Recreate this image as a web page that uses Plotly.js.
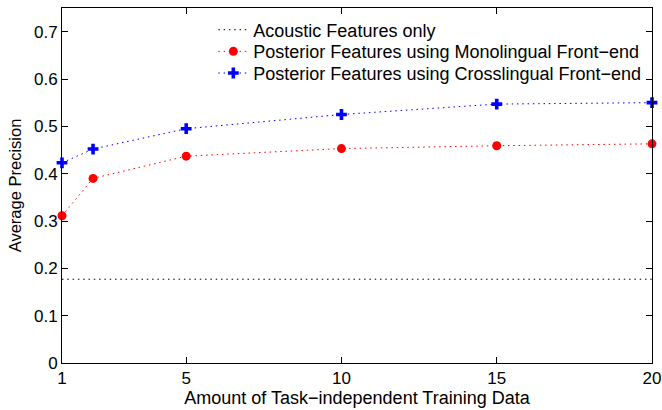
<!DOCTYPE html>
<html><head><meta charset="utf-8">
<script src="https://cdn.plot.ly/plotly-3.0.1.min.js"></script>
<style>html,body{margin:0;padding:0;background:#fff}#chart{width:662px;height:410px}</style>
</head><body><div id="chart"></div>
<script>
var trainingAmount = [1, 2, 5, 10, 15, 20];
var acousticX = [1, 20];
var acousticAP = [0.177, 0.177];
var monolingualAP = [0.311, 0.390, 0.437, 0.453, 0.459, 0.463];
var crosslingualAP = [0.423, 0.452, 0.495, 0.525, 0.547, 0.550];
var xTicks = [1, 5, 10, 15, 20];
var yTicks = [0, 0.1, 0.2, 0.3, 0.4, 0.5, 0.6, 0.7];
var yTickText = ['0', '0.1', '0.2', '0.3', '0.4', '0.5', '0.6', '0.7'];
var names = ['Acoustic Features only',
  'Posterior Features using Monolingual Front\u2212end',
  'Posterior Features using Crosslingual Front\u2212end'];

var fam = 'Liberation Sans, Arial, Helvetica, sans-serif';
var tickFont = {family: fam, size: 17, color: '#000'};
var legFont = {family: fam, size: 18, color: '#000'};
var dotDash = '1.5px,3.8px';
var traces = [
  {x: acousticX, y: acousticAP, name: names[0], mode: 'lines', legend: 'legend',
   line: {color: '#000', dash: dotDash, width: 1}, cliponaxis: false},
  {x: trainingAmount, y: monolingualAP, name: names[1], mode: 'lines+markers', legend: 'legend2',
   line: {color: '#ff0000', dash: dotDash, width: 1}, cliponaxis: false,
   marker: {color: '#ff0000', symbol: 'circle', size: 9}},
  {x: trainingAmount, y: crosslingualAP, name: names[2], mode: 'lines+markers', legend: 'legend3',
   line: {color: '#0000ff', dash: dotDash, width: 1}, cliponaxis: false,
   marker: {color: '#0000ff', symbol: 'cross', size: 9}}
];
var axisCommon = {showgrid: false, zeroline: false, showline: true, linecolor: '#000', linewidth: 1,
  mirror: 'ticks', ticks: 'inside', ticklen: 6, tickcolor: '#000', tickfont: tickFont};
function leg(y) {
  return {x: 0.2565, y: y, xanchor: 'left', yanchor: 'middle', bgcolor: 'rgba(255,255,255,0)',
    borderwidth: 0, font: legFont};
}
var layout = {
  width: 662, height: 410,
  margin: {l: 62, r: 10, t: 8, b: 47},
  paper_bgcolor: '#fff', plot_bgcolor: '#fff',
  font: tickFont,
  showlegend: true,
  legend: leg(0.938),
  legend2: leg(0.877),
  legend3: leg(0.816),
  xaxis: Object.assign({}, axisCommon, {range: [1, 20], tickvals: xTicks, ticktext: xTicks.map(String),
    title: {text: 'Amount of Task\u2212independent Training Data', font: {family: fam, size: 18, color: '#000'}, standoff: 1}}),
  yaxis: Object.assign({}, axisCommon, {range: [0, 0.75], tickvals: yTicks, ticktext: yTickText,
    title: {text: 'Average Precision', font: {family: fam, size: 16.5, color: '#000'}, standoff: 8}})
};
Plotly.newPlot('chart', traces, layout, {staticPlot: true});
</script></body></html>
